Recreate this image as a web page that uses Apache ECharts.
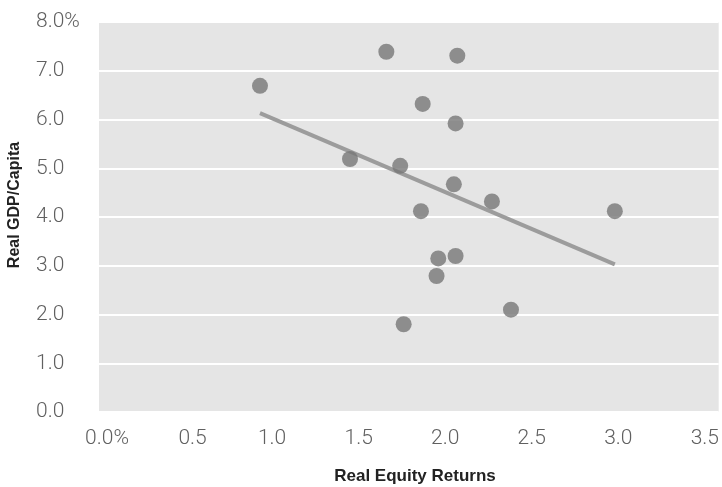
<!DOCTYPE html>
<html>
<head>
<meta charset="utf-8">
<script src="https://cdn.jsdelivr.net/npm/echarts@6/dist/echarts.min.js"></script>
<style>html,body{margin:0;padding:0;background:#fff;}#c{width:722px;height:487px;}</style>
</head>
<body>
<div id="c"></div>
<script>
// Real equity returns (x, %) and real GDP per capita growth (y, %)
var equityReturns = [0.93, 1.66, 2.07, 1.87, 2.06, 1.45, 1.74, 2.05, 2.27, 1.86, 2.98, 1.96, 2.06, 1.95, 2.38, 1.76];
var gdpPerCapita  = [6.69, 7.39, 7.31, 6.32, 5.92, 5.19, 5.05, 4.67, 4.32, 4.12, 4.12, 3.15, 3.20, 2.79, 2.10, 1.80];
// Trend line end points
var trendX = [0.93, 2.98];
var trendY = [6.13, 3.03];
var xTicks = [0, 0.5, 1, 1.5, 2, 2.5, 3, 3.5];
var yTicks = [0, 1, 2, 3, 4, 5, 6, 7, 8];
var xTitle = 'Real Equity Returns';
var yTitle = 'Real GDP/Capita';

var points = equityReturns.map(function (x, i) { return [x, gdpPerCapita[i]]; });
var trend = trendX.map(function (x, i) { return [x, trendY[i]]; });

var labelFont = { fontFamily: 'Roboto, "Liberation Sans", sans-serif', fontWeight: 300, fontSize: 21, color: '#606060' };
var titleFont = '"Liberation Sans", Arial, sans-serif';

var chart = echarts.init(document.getElementById('c'), null, { renderer: 'canvas' });
chart.setOption({
  animation: false,
  backgroundColor: '#fff',
  grid: { left: 99, right: 0, top: 22, bottom: 75, show: true, backgroundColor: '#e5e5e5', borderWidth: 0 },
  xAxis: {
    type: 'value', min: 0, max: 3.58, interval: 0.5,
    axisLine: { show: false }, axisTick: { show: false }, splitLine: { show: false },
    axisLabel: Object.assign({}, labelFont, {
      margin: 16,
      formatter: function (v) {
        var hit = xTicks.some(function (t) { return Math.abs(t - v) < 1e-6; });
        if (!hit) return '';
        if (v === 0) return '{p|0.0%}';
        if (v === 0.5) return '{q|0.5}';
        return v.toFixed(1);
      },
      rich: {
        p: Object.assign({}, labelFont, { padding: [0, 0, 0, 16] }),
        q: Object.assign({}, labelFont, { padding: [0, 0, 0, 14] })
      }
    })
  },
  yAxis: {
    type: 'value', min: 0, max: 8, interval: 1,
    axisLine: { show: false }, axisTick: { show: false },
    splitLine: { show: true, lineStyle: { color: '#ffffff', width: 2 } },
    axisLabel: Object.assign({}, labelFont, {
      align: 'left', margin: 63,
      formatter: function (v) {
        var hit = yTicks.some(function (t) { return Math.abs(t - v) < 1e-6; });
        if (!hit) return '';
        return v === 8 ? '8.0%' : v.toFixed(1);
      }
    })
  },
  graphic: [
    { type: 'text', x: 415, y: 476, style: { text: xTitle, align: 'center', verticalAlign: 'middle', font: 'bold 17px ' + titleFont, fill: '#222' } },
    { type: 'text', rotation: Math.PI / 2, x: 15, y: 205, style: { text: yTitle, align: 'center', verticalAlign: 'middle', font: 'bold 16px ' + titleFont, fill: '#222' } }
  ],
  series: [
    { type: 'line', data: trend, symbol: 'none', lineStyle: { color: '#9c9c9c', width: 4 }, z: 2 },
    { type: 'scatter', data: points, symbolSize: 16, itemStyle: { color: '#777777' }, z: 3 }
  ]
});
</script>
</body>
</html>
